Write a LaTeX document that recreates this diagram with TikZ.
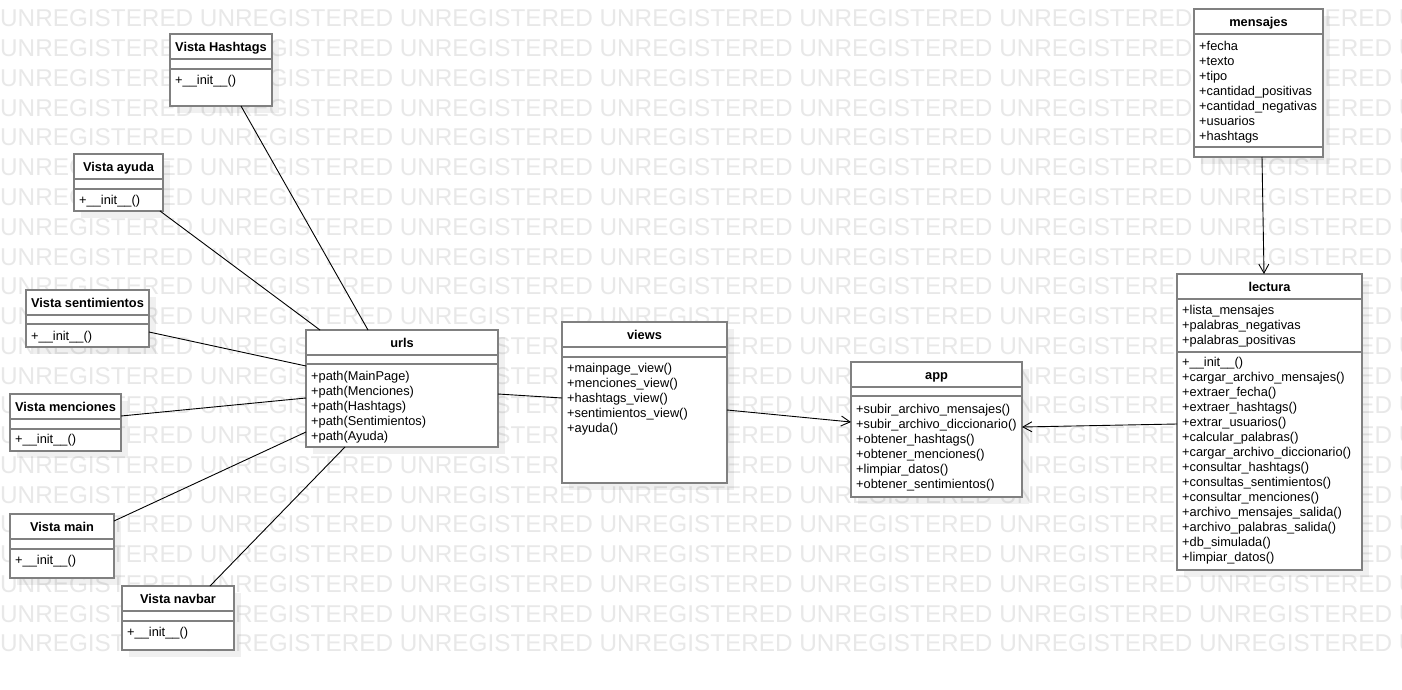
\documentclass[tikz,border=0pt]{standalone}
\usepackage{fontspec}
\setmainfont{Liberation Sans}
\usetikzlibrary{arrows.meta,shadows}
\newcommand\classbox[7]{%
  \node[cls, minimum width=#4pt, minimum height=#5pt] (#1) at (#2,#3) {};
  \draw[sep] ([yshift=-25pt]#1.north west) -- ([yshift=-25pt]#1.north east);
  \draw[sep] ([yshift=-#7pt]#1.north west) -- ([yshift=-#7pt]#1.north east);
  \node[ttl] at ([yshift=-17.5pt]#1.north) {#6};}
\newcommand\memberlist[3]{%
  \foreach \mtext [count=\i from 0] in {#3} {\node[txt] at ([xshift=5pt,yshift={-(#2+15*\i)*1pt}]#1.north west) {\mtext};}}
\begin{document}
\begin{tikzpicture}[x=1pt,y=-1pt,
  cls/.style={draw=black!50, line width=1.6pt, fill=white, anchor=north west, inner sep=0pt, outer sep=0pt,
    drop shadow={shadow xshift=7pt,shadow yshift=-7pt,fill=black,opacity=0.06}},
  sep/.style={draw=black!50, line width=1.6pt},
  ttl/.style={font=\bfseries\fontsize{12.8}{15}\selectfont, anchor=base, inner sep=0pt},
  txt/.style={font=\fontsize{12.8}{15}\selectfont, anchor=base west, inner sep=0pt},
  conn/.style={draw=black, line width=0.9pt},
  arr/.style={conn, -{Straight Barb[length=9pt,width=10pt]}},
  wm/.style={font=\fontsize{24.3}{24}\selectfont, text=black!9, anchor=base west, inner sep=0pt}]
\useasboundingbox (0,0) rectangle (1402,690);
\fill[white] (0,0) rectangle (1402,690);
\begin{scope}
\clip (0,0) rectangle (1402,690);
\foreach \k in {0,...,21}
  \node[wm] (wm\k) at (0,{27+29.75*\k}) {UNREGISTERED UNREGISTERED UNREGISTERED UNREGISTERED UNREGISTERED UNREGISTERED UNREGISTERED UNREGISTERED};
\end{scope}

\classbox{hash}{170}{34}{102}{72}{Vista Hashtags}{35}
\memberlist{hash}{51}{+\_\_init\_\_()}
\classbox{ayuda}{74}{154}{89}{57}{Vista ayuda}{35}
\memberlist{ayuda}{50.5}{+\_\_init\_\_()}
\classbox{sent}{26}{290}{123}{57}{Vista sentimientos}{34}
\memberlist{sent}{50.5}{+\_\_init\_\_()}
\classbox{menc}{10}{394}{111}{57}{Vista menciones}{35}
\memberlist{menc}{49.5}{+\_\_init\_\_()}
\classbox{vmain}{10}{514}{104}{64}{Vista main}{35}
\memberlist{vmain}{50.5}{+\_\_init\_\_()}
\classbox{nav}{122}{586}{112}{64}{Vista navbar}{35}
\memberlist{nav}{50.5}{+\_\_init\_\_()}
\classbox{urls}{306}{330}{192}{117}{urls}{34}
\memberlist{urls}{50.5}{+path(MainPage),+path(Menciones),+path(Hashtags),+path(Sentimientos),+path(Ayuda)}
\classbox{views}{562}{322}{165}{161}{views}{35}
\memberlist{views}{50.5}{+mainpage\_view(),+menciones\_view(),+hashtags\_view(),+sentimientos\_view(),+ayuda()}
\classbox{app}{851}{362}{171}{135}{app}{34}
\memberlist{app}{51.5}{+subir\_archivo\_mensajes(),+subir\_archivo\_diccionario(),+obtener\_hashtags(),+obtener\_menciones(),+limpiar\_datos(),+obtener\_sentimientos()}
\classbox{mens}{1194}{9}{129}{148}{mensajes}{138}
\memberlist{mens}{41.5}{+fecha,+texto,+tipo,+cantidad\_positivas,+cantidad\_negativas,+usuarios,+hashtags}
\classbox{lect}{1177}{274}{185}{296}{lectura}{78}
\memberlist{lect}{40.5}{+lista\_mensajes,+palabras\_negativas,+palabras\_positivas}
\memberlist{lect}{92.5}{+\_\_init\_\_(),+cargar\_archivo\_mensajes(),+extraer\_fecha(),+extraer\_hashtags(),+extrar\_usuarios(),+calcular\_palabras(),+cargar\_archivo\_diccionario(),+consultar\_hashtags(),+consultas\_sentimientos(),+consultar\_menciones(),+archivo\_mensajes\_salida(),+archivo\_palabras\_salida(),+db\_simulada(),+limpiar\_datos()}

\draw[conn] ([xshift=71pt]hash.south west) -- ([xshift=62pt]urls.north west);
\draw[conn] ([xshift=-3pt]ayuda.south east) -- ([xshift=14pt]urls.north west);
\draw[conn] ([yshift=-42pt]sent.north east) -- ([yshift=-36pt]urls.north west);
\draw[conn] ([yshift=-22pt]menc.north east) -- ([yshift=-68pt]urls.north west);
\draw[conn] ([yshift=-7pt]vmain.north east) -- ([yshift=-102pt]urls.north west);
\draw[conn] ([xshift=88pt]nav.north west) -- ([xshift=39pt]urls.south west);
\draw[conn] ([yshift=-64pt]urls.north east) -- ([yshift=-76pt]views.north west);
\draw[arr] ([yshift=-88pt]views.north east) -- ([yshift=-60pt]app.north west);
\draw[arr] ([yshift=-150pt]lect.north west) -- ([yshift=-65pt]app.north east);
\draw[arr] ([xshift=68pt]mens.south west) -- ([xshift=87pt]lect.north west);
\end{tikzpicture}
\end{document}
